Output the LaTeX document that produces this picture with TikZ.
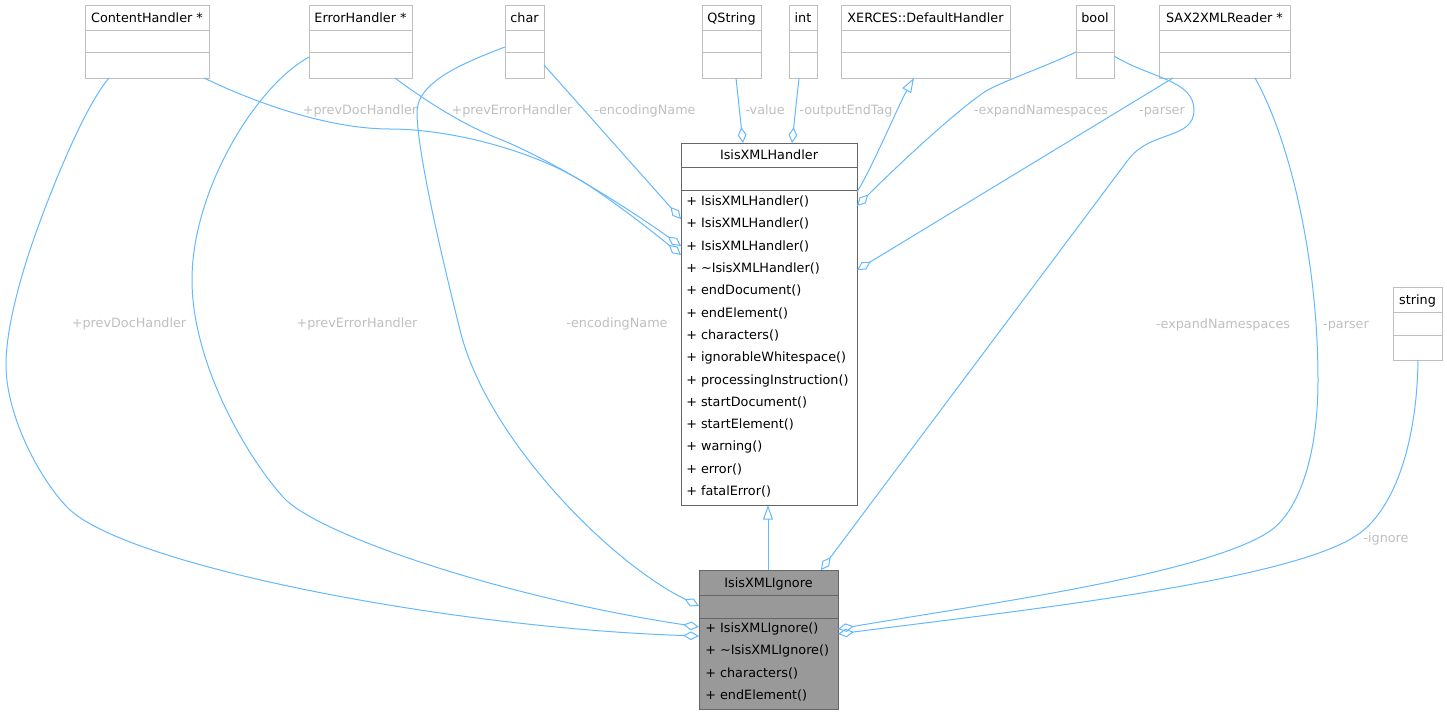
\documentclass[tikz,border=0pt]{standalone}
\usepackage{fontspec}
\setmainfont{DejaVu Sans}
\usetikzlibrary{arrows.meta,calc,fit}
\definecolor{edgeblue}{HTML}{63B8FF}
\definecolor{boxgray}{HTML}{BFBFBF}
\definecolor{dkgray}{HTML}{666666}
\definecolor{fillgray}{HTML}{999999}
\definecolor{lblgray}{HTML}{BFBFBF}
\tikzset{
 txt/.style={font=\fontsize{9.6}{11}\selectfont, text height=7pt, text depth=0pt, inner sep=0pt},
 ttl/.style={txt, text=black},
 mth/.style={txt, anchor=west, text=black},
 lbl/.style={txt, text=lblgray},
 ext/.style={draw=boxgray, fill=white, line width=0.75pt},
 mainbox/.style={draw=dkgray, fill=white, line width=0.75pt},
 focus/.style={draw=dkgray, fill=fillgray, line width=0.75pt},
 edge/.style={draw=edgeblue, line width=0.75pt},
 agg/.style={edge, -{Diamond[open, length=12pt, width=6.5pt]}},
 inh/.style={edge, -{Triangle[open, length=11pt, width=7.5pt]}},
}
\newcommand\umlbox[9]{%
 \node[fit={(#2,#3) (#4,#5)}, inner sep=0pt, outer sep=0pt, #8] (#1) {};
 \draw[#8, fill=none] (#2,#6) -- (#4,#6) (#2,#7) -- (#4,#7);
 \node[ttl] (#1-t) at ({(#2+#4)/2},{(#3+#6)/2}) {#9};
}
\begin{document}
\begin{tikzpicture}[x=0.75pt,y=-0.75pt]
\useasboundingbox (0,0) rectangle (1447,715);
% classes
\umlbox{ch}{85}{5}{209}{78}{30}{52}{ext}{ContentHandler *}
\umlbox{eh}{309}{5}{412}{78}{30}{52}{ext}{ErrorHandler *}
\umlbox{chr}{505}{5}{544}{78}{30}{52}{ext}{char}
\umlbox{qs}{702}{5}{761}{78}{30}{52}{ext}{QString}
\umlbox{int}{789}{5}{817}{78}{30}{52}{ext}{int}
\umlbox{xd}{841}{5}{1010}{78}{30}{52}{ext}{XERCES::DefaultHandler}
\umlbox{bool}{1076}{5}{1114}{78}{30}{52}{ext}{bool}
\umlbox{sax}{1159}{5}{1290}{78}{30}{52}{ext}{SAX2XMLReader *}
\umlbox{str}{1393}{287}{1442}{360}{312}{335}{ext}{string}
\umlbox{ixh}{681}{143}{857}{505}{167}{190}{mainbox}{IsisXMLHandler}
\umlbox{ign}{699}{570}{838}{709}{595}{618}{focus}{IsisXMLIgnore}
% methods IsisXMLHandler
\node[mth] (h1) at (686,201) {+ IsisXMLHandler()};
\node[mth] (h2) at (686,223.3) {+ IsisXMLHandler()};
\node[mth] (h3) at (686,245.6) {+ IsisXMLHandler()};
\node[mth] (h4) at (686,267.9) {+ \textasciitilde IsisXMLHandler()};
\node[mth] (h5) at (686,290.2) {+ endDocument()};
\node[mth] (h6) at (686,312.5) {+ endElement()};
\node[mth] (h7) at (686,334.8) {+ characters()};
\node[mth] (h8) at (686,357.1) {+ ignorableWhitespace()};
\node[mth] (h9) at (686,379.4) {+ processingInstruction()};
\node[mth] (h10) at (686,401.7) {+ startDocument()};
\node[mth] (h11) at (686,424) {+ startElement()};
\node[mth] (h12) at (686,446.3) {+ warning()};
\node[mth] (h13) at (686,468.6) {+ error()};
\node[mth] (h14) at (686,490.9) {+ fatalError()};
% methods IsisXMLIgnore
\node[mth] (g1) at (705,628) {+ IsisXMLIgnore()};
\node[mth] (g2) at (705,650.3) {+ \textasciitilde IsisXMLIgnore()};
\node[mth] (g3) at (705,672.6) {+ characters()};
\node[mth] (g4) at (705,694.9) {+ endElement()};
% ports
\coordinate (pA1) at ($(ch.south west)+(24,0)$);
\coordinate (pA2) at ($(ign.north west)+(0,66)$);
\coordinate (pB1) at ($(ch.south west)+(119,0)$);
\coordinate (pB2) at ($(ixh.north west)+(0,112)$);
\coordinate (pC1) at ($(eh.south west)+(86,0)$);
\coordinate (pC2) at ($(ixh.north west)+(0,103)$);
\coordinate (pD1) at ($(chr.north east)+(0,60)$);
\coordinate (pD2) at ($(ixh.north west)+(0,76)$);
\coordinate (pE1) at ($(qs.south west)+(34,0)$);
\coordinate (pE2) at ($(ixh.north west)+(62,0)$);
\coordinate (pF1) at ($(int.south west)+(10,0)$);
\coordinate (pF2) at ($(ixh.north west)+(111,0)$);
\coordinate (pG1) at ($(ixh.north east)+(0,49)$);
\coordinate (pG2) at ($(xd.south west)+(73,0)$);
\coordinate (pH1) at ($(bool.north west)+(0,47)$);
\coordinate (pH2) at ($(ixh.north east)+(0,63)$);
\coordinate (pI1) at ($(sax.south west)+(14,0)$);
\coordinate (pI2) at ($(ixh.north east)+(0,127)$);
\coordinate (pJ1) at ($(bool.north east)+(0,51)$);
\coordinate (pJ2) at ($(ign.north west)+(122,0)$);
\coordinate (pK1) at ($(sax.south west)+(96,0)$);
\coordinate (pK2) at ($(ign.north east)+(0,59)$);
\coordinate (pL1) at ($(str.south west)+(25,0)$);
\coordinate (pL2) at ($(ign.north east)+(0,64)$);
\coordinate (pM1) at ($(eh.north west)+(0,52)$);
\coordinate (pM2) at ($(ign.north west)+(0,57)$);
\coordinate (pN1) at ($(chr.north west)+(0,42)$);
\coordinate (pN2) at ($(ign.north west)+(0,36)$);
\coordinate (pO1) at ($(ign.north west)+(69,0)$);
\coordinate (pO2) at ($(ixh.south west)+(87,0)$);
% edges to IsisXMLHandler
\draw[agg] (pB1) .. controls (258,104) and (330,129) .. (390,129)
               .. controls (450,129) and (530,150) .. (580,180)
               .. controls (610,198) and (658,236) .. (pB2);
\draw[agg] (pC1) .. controls (427,102) and (464,125) .. (497,138)
               .. controls (553,160) and (632,211) .. (pC2);
\draw[agg] (pD1) -- (pD2);
\draw[agg] (pE1) -- (pE2);
\draw[agg] (pF1) -- (pF2);
\draw[inh] (pG1) .. controls (873,166) and (899,104) .. (pG2);
\draw[agg] (pH1) .. controls (1040,69) and (995,84) .. (983,93)
               .. controls (950,116) and (892,171) .. (pH2);
\draw[agg] (pI1) -- (pI2);
% edges to IsisXMLIgnore
\draw[agg] (pA1) .. controls (83,108) and (46,202) .. (30,250)
               .. controls (19,283) and (6,330) .. (6,365)
               .. controls (6,415) and (39,478) .. (67,507)
               .. controls (122,565) and (449,628) .. (pA2);
\draw[agg] (pM1) .. controls (256,86) and (192,190) .. (192,280)
               .. controls (192,360) and (243,452) .. (283,497)
               .. controls (316,534) and (501,597) .. (pM2);
\draw[agg] (pN1) .. controls (463,63) and (417,82) .. (417,112)
               .. controls (417,150) and (440,250) .. (460,330)
               .. controls (486,437) and (609,562) .. (pN2);
\draw[agg] (pJ1) .. controls (1150,78) and (1194,80) .. (1194,110)
               .. controls (1194,140) and (1150,130) .. (1128,160) -- (pJ2);
\draw[agg] (pK1) .. controls (1290,140) and (1318,260) .. (1318,380)
               .. controls (1318,460) and (1297,515) .. (1267,533)
               .. controls (1199,575) and (985,604) .. (pK2);
\draw[agg] (pL1) .. controls (1417,440) and (1396,506) .. (1360,533)
               .. controls (1296,581) and (1016,611) .. (pL2);
\draw[inh] (pO1) -- (pO2);
% labels
\node[lbl] (lA) at (129,323) {+prevDocHandler};
\node[lbl] (lB) at (360,110) {+prevDocHandler};
\node[lbl] (lC) at (512,110) {+prevErrorHandler};
\node[lbl] (lD) at (645,110) {-encodingName};
\node[lbl] (lE) at (765,110) {-value};
\node[lbl] (lF) at (846,110) {-outputEndTag};
\node[lbl] (lH) at (1041,110) {-expandNamespaces};
\node[lbl] (lI) at (1162,110) {-parser};
\node[lbl] (lJ) at (1223,324) {-expandNamespaces};
\node[lbl] (lK) at (1346,324) {-parser};
\node[lbl] (lL) at (1386,538) {-ignore};
\node[lbl] (lM) at (357,323) {+prevErrorHandler};
\node[lbl] (lN) at (617,323) {-encodingName};
\end{tikzpicture}
\end{document}
